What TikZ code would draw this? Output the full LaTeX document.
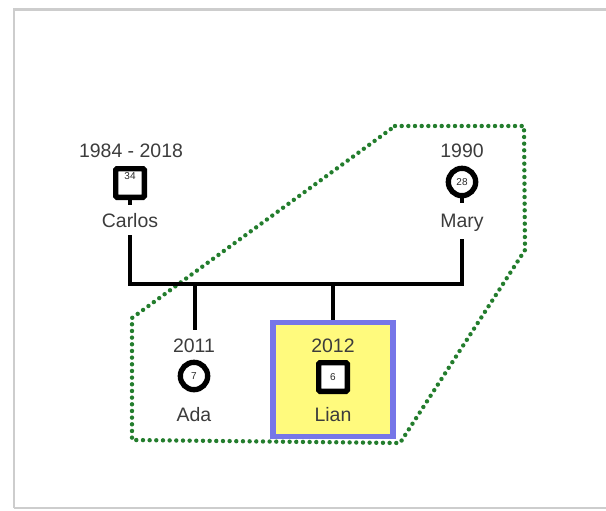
\documentclass[tikz,border=0pt]{standalone}
\usepackage{fontspec}
\setmainfont{Liberation Sans}
\definecolor{txtgray}{RGB}{60,60,60}
\definecolor{smallgray}{RGB}{40,40,40}
\definecolor{grpgreen}{RGB}{35,125,45}
\definecolor{hiblue}{RGB}{118,118,232}
\definecolor{hiyellow}{RGB}{255,250,125}
\definecolor{framegray}{RGB}{205,205,205}
\begin{document}
\begin{tikzpicture}[x=0.75pt,y=-0.75pt,
  txt/.style={anchor=base,inner sep=0pt,text=txtgray,font=\fontsize{14.6}{17}\selectfont},
  small/.style={inner sep=0pt,text=smallgray,font=\fontsize{7.5}{8}\selectfont},
  male/.style={draw=black,fill=white,line width=4pt,rounded corners=1pt,minimum size=21.5pt,inner sep=0pt},
  female/.style={draw=black,fill=white,line width=4pt,circle,minimum size=20.5pt,inner sep=0pt},
  famline/.style={draw=black,line width=3.6pt},
  stem/.style={draw=black,line width=2.4pt},
  group/.style={draw=grpgreen,line width=3.3pt,line cap=round,dash pattern=on 0pt off 5pt,line join=round},
  hilite/.style={draw=hiblue,fill=hiyellow,line width=3.8pt,inner sep=0pt},
  frameline/.style={draw=framegray,line width=1.6pt}
]
\useasboundingbox (0,0) rectangle (606,510);
\fill[white] (0,0) rectangle (606,510);
% frame
\draw[frameline] (14,508) -- (14,9.5) -- (606,9.5);
\draw[frameline] (14,508) -- (606,508);

% group outline
\draw[group] (395,126) -- (524,126) -- (525,250) -- (400,443) -- (132,440) -- (132,318) -- cycle;

% highlight box for Lian
\node[hilite,minimum width=90pt,minimum height=85pt] (lianbox) at (333,379.5) {};

% parents
\node[txt] (cyear) at (131,157) {1984 - 2018};
\node[male] (carlos) at (130,183) {};
\node[small,anchor=north] (cage) at (130,172) {34};
\node[txt] (cname) at (130,227) {Carlos};
\coordinate (cstem) at (130,205);
\draw[stem] (carlos.south) -- (cstem);

\node[txt] (myear) at (462,157) {1990};
\node[female] (mary) at (462,182) {};
\node[small] (mage) at (462,182) {28};
\node[txt] (mname) at (462,227) {Mary};
\coordinate (mstem) at (462,203);
\draw[stem] (mary.south) -- (mstem);

% children
\node[txt] (ayear) at (194,352) {2011};
\node[female] (ada) at (194,376) {};
\node[small] (aage) at (194,376) {7};
\node[txt] (aname) at (194,421) {Ada};

\node[txt] (lyear) at (333,352) {2012};
\node[male] (lian) at (333,377) {};
\node[small] (lage) at (333,377) {6};
\node[txt] (lname) at (333,421) {Lian};

% family lines
\coordinate (barL) at (130,284);
\coordinate (barR) at (462,284);
\coordinate (adaJ) at (195,284);
\coordinate (lianJ) at (333,284);
\coordinate (adaEnd) at (195,330);
\draw[famline,line join=miter] ([yshift=-6pt]cname.south) -- (barL) -- (barR) -- ([yshift=-6pt]mname.south);
\draw[famline] (adaJ) -- (adaEnd);
\draw[famline] (lianJ) -- (lianbox.north);
\end{tikzpicture}
\end{document}
